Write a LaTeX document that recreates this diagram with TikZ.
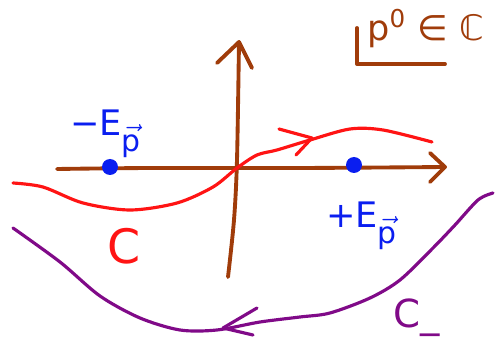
\documentclass[tikz,border=0pt]{standalone}
\usepackage{fontspec}
\setmainfont{DejaVu Sans}
\usetikzlibrary{positioning}
\definecolor{axBrown}{HTML}{A03C0A}
\definecolor{cRed}{HTML}{FF1414}
\definecolor{cPurple}{HTML}{800A88}
\definecolor{poleBlue}{HTML}{0A1EF0}
\newcommand{\psub}{\raisebox{-0.45em}{$\vec{\mbox{\fontsize{17}{17}\selectfont p}}$}}

\begin{document}
\begin{tikzpicture}[x=0.02cm,y=-0.02cm,line cap=round,line join=round,
    axis/.style={draw=axBrown,line width=2.2pt},
    contour/.style={line width=1.8pt},
    pole/.style={circle,fill=poleBlue,inner sep=0pt,minimum size=0.32cm},
    lbl/.style={inner sep=0pt,font=\fontsize{20}{24}\selectfont}]
  \useasboundingbox (0,0) rectangle (495,341);
  % axes
  \draw[axis] plot[smooth] coordinates {(57,169) (150,168) (300,168) (445,167)};
  \draw[axis] (430,153) -- (445,167) -- (430,182);
  \draw[axis] plot[smooth] coordinates {(228,277) (234,220) (237,160) (239,42)};
  \draw[axis] (217,63) -- (239,42) -- (252,68);
  % p0 label, half boxed
  \node[lbl,text=axBrown,anchor=base west] (pLab) at (367,41) {p\textsuperscript{0} ∈ ℂ};
  \draw[axis] (357,28) -- (357,64) -- (445,64);
  % poles
  \node[pole] (mPole) at (110,167) {};
  \node[pole] (pPole) at (354,165) {};
  \node[lbl,text=poleBlue,anchor=base west] (mEp) at (70,136) {−E\psub};
  \node[lbl,text=poleBlue,anchor=base west] (pEp) at (326,228) {+E\psub};
  % contour C
  \draw[contour,cRed] plot[smooth] coordinates {(13,183) (43,187) (83,203) (130,210)
    (177,203) (213,187) (237,168) (257,155) (277,150) (310,140) (350,129) (383,130) (432,142)};
  \coordinate (cTip) at (312,138);
  \draw[contour,cRed] (279,129) -- (cTip) -- (296,155);
  \node[lbl,text=cRed,font=\fontsize{27}{30}\selectfont] (cLab) at (124,246) {C};
  % contour C_-
  \draw[contour,cPurple] plot[smooth] coordinates {(493,193) (478,200) (455,225) (433,248)
    (400,280) (370,298) (330,313) (300,317) (260,322) (217,330) (180,330) (140,318)
    (100,296) (60,262) (13,228)};
  \coordinate (cmTip) at (223,328);
  \draw[contour,cPurple] (257,308) -- (cmTip) -- (253,335);
  \node[lbl,text=cPurple,font=\fontsize{22}{26}\selectfont,anchor=base west] (cmLab) at (393,328) {C\_};
\end{tikzpicture}
\end{document}
